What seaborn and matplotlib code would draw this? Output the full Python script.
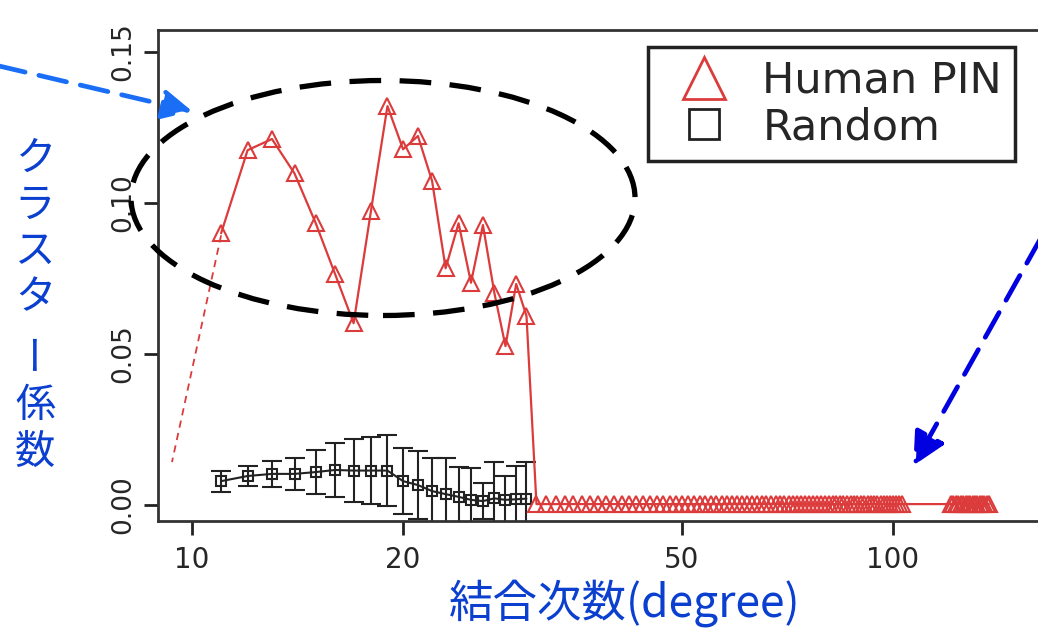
import numpy as np
import pandas as pd
import matplotlib
matplotlib.use("Agg")
import matplotlib.pyplot as plt
import seaborn as sns
from matplotlib.patches import Ellipse
from matplotlib.lines import Line2D

# Human PIN: peak region (degree, clustering coefficient)
pin_x = [11, 12, 13, 14, 15, 16, 17, 18, 19, 20,
         21, 22, 23, 24, 25, 26, 27, 28, 29, 30]
pin_y = [0.0900, 0.1175, 0.1212, 0.1098, 0.0935, 0.0764, 0.0602, 0.0975, 0.1321, 0.1178,
         0.1222, 0.1073, 0.0784, 0.0933, 0.0736, 0.0927, 0.0701, 0.0526, 0.0732, 0.0626]

# Human PIN: zero region (high degree, consecutive integer degrees)
zero_x = list(range(31, 104)) + list(range(121, 138))
zero_y = [0.0003] * len(zero_x)

# dashed extrapolation toward low degree
extra_x = [11, 9.36]
extra_y = [0.0893, 0.0142]

# Random network: mean and error
rand_x = pin_x
rand_y = [0.0079, 0.0096, 0.0103, 0.0103, 0.0109, 0.0116, 0.0114, 0.0114, 0.0114, 0.0079,
          0.0066, 0.0046, 0.0036, 0.0027, 0.0017, 0.0013, 0.0022, 0.0017, 0.0019, 0.0021]
rand_err = [0.0035, 0.0034, 0.0042, 0.0054, 0.0072, 0.0090, 0.0105, 0.0110, 0.0117, 0.0110,
            0.0114, 0.0110, 0.0120, 0.0100, 0.0105, 0.0060, 0.0120, 0.0080, 0.0110, 0.0120]

x_ticks = [10, 20, 50, 100]
y_ticks = [0.00, 0.05, 0.10, 0.15]

red = "#DC3B3B"
blue = "#0A3FD0"

sns.set_style("ticks")
plt.rcParams["font.family"] = ["DejaVu Sans", "Noto Sans CJK JP"]

fig = plt.figure(figsize=(10.38, 6.31), dpi=100)
ax = fig.add_axes([158 / 1038, 1 - 521 / 631, (1045 - 158) / 1038, (521 - 30) / 631])

pin_df = pd.DataFrame({"degree": pin_x + zero_x, "cc": pin_y + zero_y})
rand_df = pd.DataFrame({"degree": rand_x, "cc": rand_y})

ax.errorbar(rand_x, rand_y, yerr=rand_err, fmt="none", ecolor="#222222",
            elinewidth=1.5, capsize=7.5, capthick=1.5, zorder=2)
sns.lineplot(data=rand_df, x="degree", y="cc", ax=ax, color="#222222", lw=1.5,
             marker="s", markersize=6.5, markerfacecolor="none",
             markeredgecolor="#222222", markeredgewidth=1.5, zorder=3)
sns.lineplot(data=pin_df, x="degree", y="cc", ax=ax, color=red, lw=1.6,
             marker="^", markersize=11, markerfacecolor="none",
             markeredgecolor=red, markeredgewidth=1.5, zorder=4)
ax.plot(extra_x, extra_y, color=red, lw=1.3, ls=(0, (4, 3)))

ax.set_xscale("log")
ax.set_xlim(8.94, 164.8)
ax.set_ylim(-0.0053, 0.1573)
ax.set_xticks(x_ticks)
ax.set_xticklabels([str(t) for t in x_ticks])
ax.minorticks_off()
ax.set_yticks(y_ticks)
ax.set_yticklabels([f"{t:.2f}" for t in y_ticks], rotation=90, va="center")
ax.tick_params(axis="x", labelsize=20, length=10, width=2, color="#222222", pad=8)
ax.tick_params(axis="y", labelsize=19, length=10, width=2, color="#222222", pad=6)
ax.set_xlabel("")
ax.set_ylabel("")
for s in ax.spines.values():
    s.set_linewidth(2)
    s.set_color("#333333")

# legend with marker-only handles
handles = [Line2D([], [], ls="none", marker="^", markersize=30, markerfacecolor="none",
                  markeredgecolor=red, markeredgewidth=2),
           Line2D([], [], ls="none", marker="s", markersize=21, markerfacecolor="none",
                  markeredgecolor="#222222", markeredgewidth=2)]
leg = ax.legend(handles, ["Human PIN", "Random"], loc="upper right",
                bbox_to_anchor=(1015 / 1038, 1 - 47 / 631), bbox_transform=fig.transFigure,
                borderaxespad=0, fontsize=31, fancybox=False, framealpha=1,
                handletextpad=0.35, labelspacing=0.1, borderpad=0.3, handlelength=2.0)
leg.get_frame().set_edgecolor("#222222")
leg.get_frame().set_linewidth(2.5)

# dashed ellipse around the peak region
fig.add_artist(Ellipse((383 / 1038, 1 - 198 / 631), 504 / 1038, 235 / 631,
                       transform=fig.transFigure, fill=False, edgecolor="black",
                       lw=3.8, ls=(0, (6, 3.5))))

# arrows
ax.annotate("", xy=(195 / 1038, 1 - 112 / 631), xytext=(-0.005, 1 - 65 / 631),
            xycoords="figure fraction", textcoords="figure fraction",
            arrowprops=dict(arrowstyle="-|>,head_length=0.9,head_width=0.45",
                            color="#1A6EF5", lw=3.4, ls=(0, (6, 3)), mutation_scale=20))
ax.annotate("", xy=(912 / 1038, 1 - 468 / 631), xytext=(1042 / 1038, 1 - 236 / 631),
            xycoords="figure fraction", textcoords="figure fraction",
            arrowprops=dict(arrowstyle="-|>,head_length=1.0,head_width=0.5",
                            color="#0000E0", lw=3.4, ls=(0, (6, 3)), mutation_scale=20))

# vertical y label, one character at a time
ylab = "クラスター係数"
ylab_pos = [158, 205, 251, 298, 350, 406, 452]
for ch, py in zip(ylab, ylab_pos):
    fig.text(35 / 1038, 1 - py / 631, ch, fontsize=29, color=blue,
             family=["Noto Sans CJK JP", "DejaVu Sans"], ha="center", va="center",
             rotation=90 if ch == "ー" else 0)

fig.text(625 / 1038, 1 - 603 / 631, "結合次数(degree)", fontsize=32, color=blue,
         family=["Noto Sans CJK JP", "DejaVu Sans"], ha="center", va="center")

plt.savefig("out.png", dpi=100)
